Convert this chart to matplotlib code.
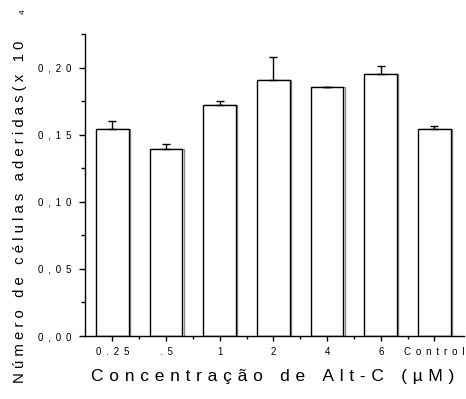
import matplotlib

matplotlib.use("Agg")
import matplotlib.pyplot as plt
import numpy as np
from matplotlib.ticker import MultipleLocator, FixedLocator

plt.rcParams["font.family"] = ["Liberation Sans", "DejaVu Sans"]

categories = ["0.25", ".5", "1", "2", "4", "6", "Control"]
means = [0.154, 0.139, 0.172, 0.191, 0.1855, 0.195, 0.154]
errors = [0.006, 0.004, 0.003, 0.017, 0.0, 0.006, 0.0025]
y_ticks = [0.00, 0.05, 0.10, 0.15, 0.20]

EN = "\u2002"     # en space
THIRD = "\u2004"  # three-per-em space


def spaced(text: str, gap: str = " ", word_gap: str = "   ") -> str:
    return word_gap.join(gap.join(word) for word in text.split(" "))


W, H = 466, 399
PT = 72 / 100  # points per pixel at dpi 100
fig = plt.figure(figsize=(W / 100, H / 100), dpi=100)
ax = fig.add_axes([85 / W, (H - 336) / H, (464 - 85) / W, (336 - 34) / H])

x = np.arange(len(categories))
# faint grey shadow on the right edge of each bar, as in the scanned original
ax.bar(x + 0.02, means, width=0.61, color="white", edgecolor="#8a8a8a", linewidth=1.0, zorder=1)
ax.bar(x, means, width=0.61, color="white", edgecolor="black", linewidth=1.0, zorder=2)
ax.errorbar(x, means, yerr=[np.zeros(len(errors)), errors], fmt="none",
            ecolor="black", elinewidth=1.0, capsize=3, capthick=1.0, zorder=3)

ax.set_xlim(-0.51, 6.55)
ax.set_ylim(0, 0.225)

for side in ("top", "right"):
    ax.spines[side].set_visible(False)
for side in ("left", "bottom"):
    ax.spines[side].set_linewidth(1.0)

ax.yaxis.set_major_locator(FixedLocator(y_ticks))
ax.yaxis.set_minor_locator(MultipleLocator(0.025))
ax.set_yticklabels([spaced(f"{v:.2f}".replace(".", ","), EN) for v in y_ticks])
ax.set_xticks(x)
ax.set_xticks(x[:-1] + 0.5, minor=True)
ax.set_xticklabels([spaced(c, EN) for c in categories])

ax.tick_params(axis="both", which="both", direction="out", width=1.0, labelsize=7)
ax.tick_params(axis="y", which="major", length=6 * PT, pad=8 * PT)
ax.tick_params(axis="y", which="minor", length=4 * PT)
ax.tick_params(axis="x", which="major", length=5 * PT, pad=6 * PT)
ax.tick_params(axis="x", which="minor", length=3 * PT)

fig.text(273 / W, 1 - 376 / H, spaced("Concentração de Alt-C (µM)", THIRD, THIRD * 3),
         ha="center", va="center", fontsize=12.5)
fig.text(20 / W, 1 - 212 / H, spaced("Número de células aderidas(x 10"),
         rotation=90, ha="center", va="center", fontsize=10.7)
fig.text(23 / W, 1 - 12 / H, "4", rotation=90, ha="center", va="center", fontsize=6)

fig.savefig("out.png", dpi=100)
